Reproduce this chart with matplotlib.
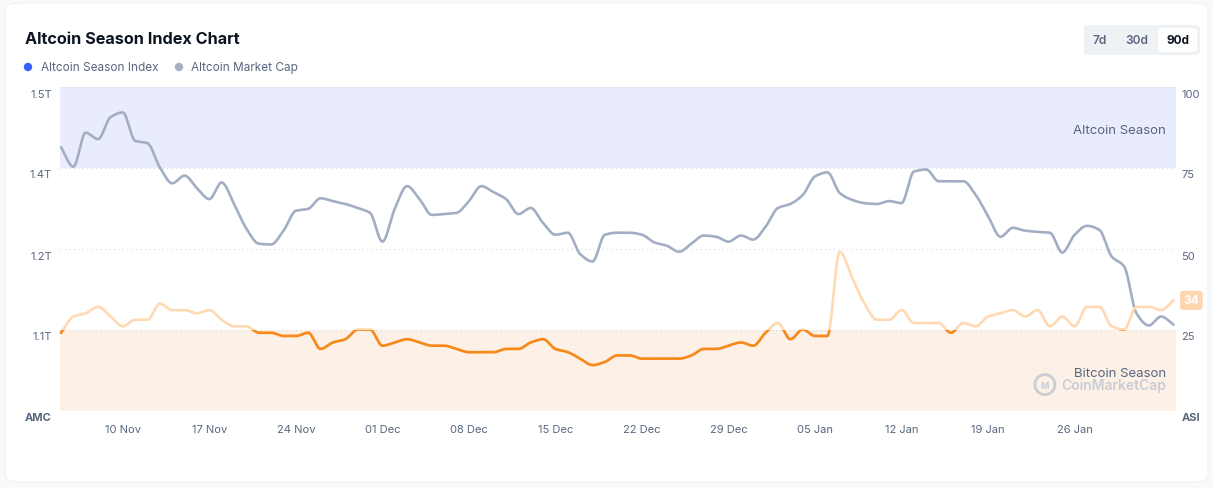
import matplotlib
matplotlib.use("Agg")
import matplotlib.pyplot as plt
import matplotlib.dates as mdates
from matplotlib.patches import FancyBboxPatch, Rectangle, Ellipse
from matplotlib.transforms import ScaledTranslation
import numpy as np
import pandas as pd

# daily values, 05 Nov 2024 .. 03 Feb 2025
start_date = "2024-11-05"
asi_values = [24, 29, 30, 32, 29, 26, 28, 28, 33, 31, 31, 30, 31, 28, 26, 26, 24, 24, 23, 23,
              24, 19, 21, 22, 25, 25, 20, 21, 22, 21, 20, 20, 19, 18, 18, 18, 19, 19, 21, 22,
              19, 18, 16, 14, 15, 17, 17, 16, 16, 16, 16, 17, 19, 19, 20, 21, 20, 24, 27, 22,
              25, 23, 23, 49, 41, 33, 28, 28, 31, 27, 27, 27, 24, 27, 26, 29, 30, 31, 29, 31,
              26, 29, 26, 32, 32, 26, 25, 32, 32, 31, 34]
market_cap_t = [1.425, 1.401, 1.443, 1.435, 1.462, 1.468, 1.433, 1.430, 1.400, 1.361,
                1.380, 1.349, 1.322, 1.363, 1.310, 1.249, 1.212, 1.210, 1.244, 1.293,
                1.298, 1.324, 1.317, 1.310, 1.300, 1.288, 1.217, 1.298, 1.354, 1.322,
                1.283, 1.285, 1.288, 1.317, 1.354, 1.339, 1.322, 1.285, 1.300, 1.263,
                1.234, 1.239, 1.193, 1.184, 1.234, 1.239, 1.239, 1.234, 1.215, 1.207,
                1.196, 1.212, 1.232, 1.229, 1.217, 1.232, 1.222, 1.254, 1.300, 1.310,
                1.332, 1.378, 1.388, 1.337, 1.320, 1.312, 1.310, 1.317, 1.312, 1.390,
                1.395, 1.366, 1.366, 1.366, 1.332, 1.280, 1.229, 1.251, 1.244, 1.241,
                1.239, 1.195, 1.234, 1.256, 1.246, 1.190, 1.178, 1.120, 1.105, 1.116, 1.106]

# left axis labels sit on the same gridlines as the index (not linear)
cap_ticks = [1.0, 1.1, 1.2, 1.4, 1.5]
cap_labels = ["AMC", "1.1T", "1.2T", "1.4T", "1.5T"]
asi_ticks = [0, 25, 50, 75, 100]
asi_labels = ["ASI", "25", "50", "75", "100"]

TXT = "#58667E"
GREY = "#A3AEC4"
DARK_OR = "#F7891B"
LIGHT_OR = "#FFD9B3"
WM = "#C9CDD4"


def monotone(x, y, n=24):
    # monotone cubic (Fritsch-Carlson), like d3 curveMonotoneX
    x = np.asarray(x, float)
    y = np.asarray(y, float)
    h = np.diff(x)
    d = np.diff(y) / h
    m = np.zeros_like(y)
    m[0], m[-1] = d[0], d[-1]
    for k in range(1, len(y) - 1):
        if d[k - 1] * d[k] <= 0:
            m[k] = 0
        else:
            w1 = 2 * h[k] + h[k - 1]
            w2 = h[k] + 2 * h[k - 1]
            m[k] = (w1 + w2) / (w1 / d[k - 1] + w2 / d[k])
    xs, ys = [], []
    for k in range(len(x) - 1):
        t = np.linspace(0, 1, n, endpoint=False)
        h00 = 2 * t**3 - 3 * t**2 + 1
        h10 = t**3 - 2 * t**2 + t
        h01 = -2 * t**3 + 3 * t**2
        h11 = t**3 - t**2
        xs.append(x[k] + t * h[k])
        ys.append(h00 * y[k] + h10 * h[k] * m[k] + h01 * y[k + 1] + h11 * h[k] * m[k + 1])
    xs.append([x[-1]])
    ys.append([y[-1]])
    return np.concatenate(xs), np.concatenate(ys)


dates = pd.date_range(start_date, periods=len(asi_values), freq="D")
xnum = mdates.date2num(dates)
cap_pos = np.interp(market_cap_t, cap_ticks, asi_ticks)

plt.rcParams["font.family"] = ["Inter", "DejaVu Sans"]
fig = plt.figure(figsize=(12.13, 4.89), dpi=100)
fig.patch.set_facecolor("#F8F9FA")

card = FancyBboxPatch((5 / 1213, 6 / 489), 1203 / 1213, 479 / 489,
                      boxstyle="round,pad=0,rounding_size=0.012",
                      transform=fig.transFigure, facecolor="white",
                      edgecolor="#EEF0F3", linewidth=0.8, zorder=-5)
fig.patches.append(card)

ax = fig.add_axes([60 / 1213, 77.5 / 489, 1116 / 1213, 324 / 489])
ax.set_zorder(2)
ax.set_facecolor("none")
ax.set_xlim(xnum[0] - 0.08, xnum[-1] + 0.2)
ax.set_ylim(0, 100)

ax.axhspan(75, 100, color="#E8ECFD", lw=0, zorder=0)
ax.axhspan(0, 25, color="#FDF1E7", lw=0, zorder=0)
for v in asi_ticks:
    ax.axhline(v, color="#D5D9E0", lw=0.8, ls=(0, (1, 3)), zorder=1)

ax.text(0.991, 0.866, "Altcoin Season", transform=ax.transAxes, ha="right", va="center",
        fontsize=9.5, color=TXT)
ax.text(0.991, 0.115, "Bitcoin Season", transform=ax.transAxes, ha="right", va="center",
        fontsize=9.5, color=TXT)

# watermark
ax.add_patch(Ellipse((0.8825, 0.08), 20 / 1116, 20 / 324, transform=ax.transAxes, fill=False,
                     edgecolor=WM, lw=2, zorder=1))
ax.text(0.8825, 0.077, "M", transform=ax.transAxes, ha="center", va="center",
        fontsize=6.5, color=WM, fontweight="bold")
ax.text(0.9915, 0.08, "CoinMarketCap", transform=ax.transAxes, ha="right", va="center",
        fontsize=10, color=WM, fontweight="semibold")

sx, sy = monotone(xnum, cap_pos)
ax.plot(sx, sy, color=GREY, lw=1.9, zorder=3, solid_capstyle="round")

ax_x, ax_y = monotone(xnum, asi_values)
ax.plot(ax_x, ax_y, color=LIGHT_OR, lw=1.9, zorder=4)
dark, = ax.plot(ax_x, ax_y, color=DARK_OR, lw=1.9, zorder=5)
clip = Rectangle((xnum[0] - 1, 0), xnum[-1] - xnum[0] + 2, 25, transform=ax.transData)
dark.set_clip_path(clip)

for s in ax.spines.values():
    s.set_visible(False)

ax.set_yticks(asi_ticks)
ax.set_yticklabels(cap_labels)
ax.tick_params(axis="y", length=0, pad=6, labelsize=8, labelcolor=TXT)
ax.get_yticklabels()[0].set_fontweight("bold")

ax.set_xticks(mdates.date2num(pd.date_range("2024-11-10", "2025-01-26", freq="7D")))
ax.xaxis.set_major_formatter(mdates.DateFormatter("%d %b"))
ax.tick_params(axis="x", length=0, pad=10, labelsize=8, labelcolor=TXT)

ax2 = ax.twinx()
ax2.set_zorder(3)
ax2.set_ylim(0, 100)
for s in ax2.spines.values():
    s.set_visible(False)
ax2.set_yticks(asi_ticks)
ax2.set_yticklabels(asi_labels)
ax2.tick_params(axis="y", length=0, pad=4, labelsize=8, labelcolor=TXT)
ax2.get_yticklabels()[0].set_fontweight("bold")

shift = ScaledTranslation(0, -6 / 100, fig.dpi_scale_trans)
for lab in ax.get_yticklabels() + ax2.get_yticklabels():
    lab.set_transform(lab.get_transform() + shift)

# last value badge
last = asi_values[-1]
ax2.annotate(str(last), xy=(1.0, last), xycoords=("axes fraction", "data"),
             xytext=(11, 0), textcoords="offset points", ha="center", va="center",
             fontsize=8.5, fontweight="bold", color="white",
             bbox=dict(boxstyle="round,pad=0.3,rounding_size=0.3", fc="#FDD5AE", ec="none"))

# header
fig.text(25 / 1213, 1 - 40 / 489, "Altcoin Season Index Chart", fontsize=11.7, fontweight="bold",
         color="#0D1421", va="center")
fig.patches.append(Ellipse((28 / 1213, 1 - 68 / 489), 7 / 1213, 7 / 489,
                           transform=fig.transFigure, color="#3861FB"))
fig.text(41 / 1213, 1 - 68 / 489, "Altcoin Season Index", fontsize=8.5, color=TXT, va="center")
fig.patches.append(Ellipse((179 / 1213, 1 - 68 / 489), 7 / 1213, 7 / 489,
                           transform=fig.transFigure, color="#A6B0C3"))
fig.text(191 / 1213, 1 - 68 / 489, "Altcoin Market Cap", fontsize=8.5, color=TXT, va="center")

# range buttons
fig.patches.append(FancyBboxPatch((1084 / 1213, 1 - 56 / 489), 116 / 1213, 30 / 489,
                                  boxstyle="round,pad=0,rounding_size=0.006",
                                  transform=fig.transFigure, fc="#EFF2F5", ec="none"))
fig.patches.append(FancyBboxPatch((1158 / 1213, 1 - 53 / 489), 39 / 1213, 24 / 489,
                                  boxstyle="round,pad=0,rounding_size=0.005",
                                  transform=fig.transFigure, fc="white", ec="none"))
fig.text(1100 / 1213, 1 - 41 / 489, "7d", fontsize=8.5, color=TXT, ha="center", va="center",
         fontweight="semibold")
fig.text(1137 / 1213, 1 - 41 / 489, "30d", fontsize=8.5, color=TXT, ha="center", va="center",
         fontweight="semibold")
fig.text(1178 / 1213, 1 - 41 / 489, "90d", fontsize=8.5, color="#0D1421", ha="center",
         va="center", fontweight="bold")

fig.savefig("out.png", dpi=100)
